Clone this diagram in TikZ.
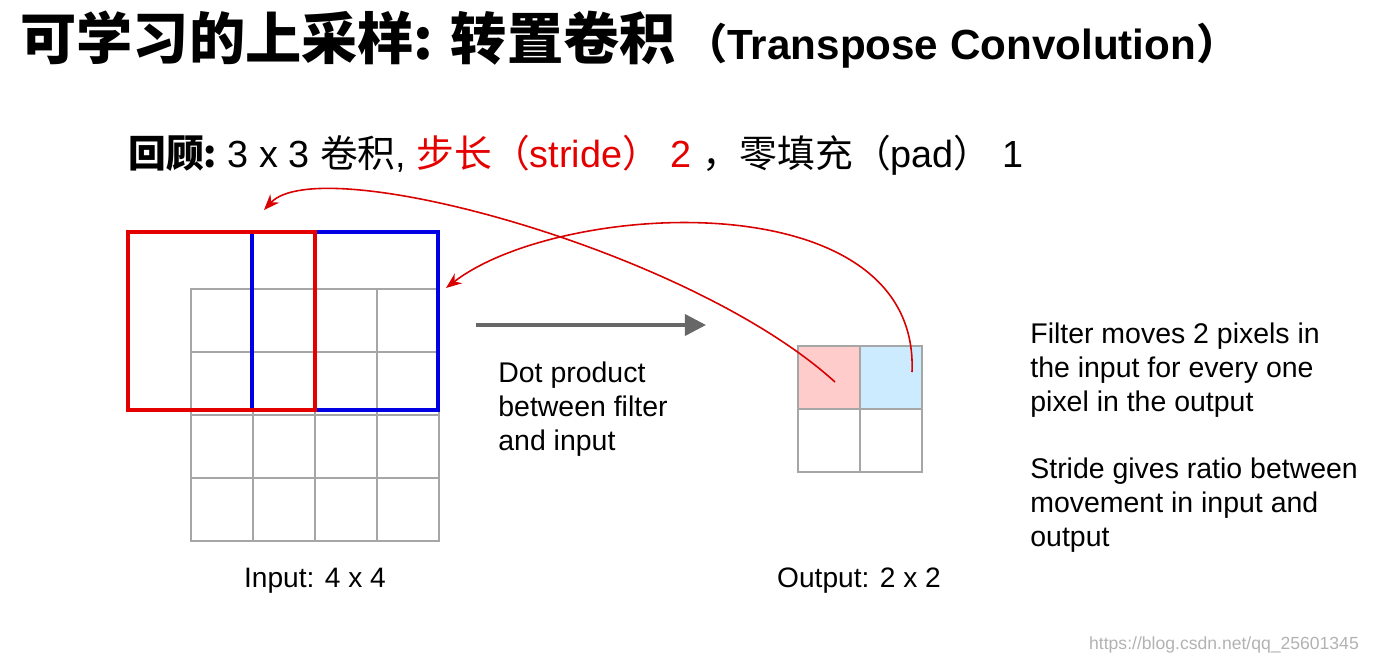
\documentclass[tikz,border=0pt]{standalone}
\usepackage{fontspec}
\setmainfont{Liberation Sans}
\newfontfamily\cjk{Noto Sans CJK SC}
\usetikzlibrary{arrows.meta,positioning,calc}

\tikzset{
  cell/.style={draw=gray!70,line width=0.6pt},
  body/.style={anchor=north west,align=left,font=\fontsize{16.2}{19.2}\selectfont,inner sep=0pt},
  curl/.style={red!85!black,line width=0.9pt,-{Stealth[length=9pt,width=7pt]}}
}

\begin{document}
\begin{tikzpicture}[x=0.02cm,y=-0.02cm]
    \useasboundingbox (0,0) rectangle (1373,664);
    % title
    \node[anchor=west,inner sep=0pt] (title) at (20,40) {\fontsize{32}{34}\selectfont\cjk\bfseries 可学习的上采样: 转置卷积\fontsize{24}{28}\selectfont\ （{\rmfamily\bfseries Transpose Convolution}）};
    \node[anchor=west,inner sep=0pt] (recap) at (128,155) {\fontsize{21.5}{24}\selectfont{\cjk\bfseries 回顾:}\ 3 x 3 {\cjk 卷积}, \textcolor{red!90!black}{{\cjk 步长（}stride{\cjk ）} 2} {\cjk ，零填充（}pad{\cjk ）} 1};

    % input 4x4
    \foreach \i in {0,...,3}
      \foreach \j in {0,...,3}
        \draw[cell] (191+62*\i,289+63*\j) rectangle ++(62,63);
    \draw[blue!90!black,line width=2.2pt] (252,232) rectangle (438,410);
    \draw[red!90!black,line width=2.2pt] (128,232) rectangle (315,410);
    \node (inlab) at (315,581) {\fontsize{16}{18}\selectfont Input: 4 x 4};

    % output 2x2
    \fill[red!20] (798,346) rectangle (860,409);
    \fill[blue!40!cyan!20] (860,346) rectangle (921,409);
    \foreach \i in {0,1}
      \foreach \j in {0,1}
        \draw[cell] (798+62*\i,346+63*\j) rectangle ++(62,63);
    \node (outlab) at (859,581) {\fontsize{16}{18}\selectfont Output: 2 x 2};

    % arrow and texts
    \coordinate (arrA) at (476,325);
    \coordinate (arrB) at (706,325);
    \draw[gray!30!black!70,line width=2pt,-{Triangle[length=12pt,width=12pt]}] (arrA) -- (arrB);
    \node[body] (dot) at (498,362) {Dot product\\between filter\\and input};
    \node[body] (moves) at (1030,323) {Filter moves 2 pixels in\\the input for every one\\pixel in the output};
    \node[body] (ratio) at (1030,458) {Stride gives ratio between\\movement in input and\\output};

    % red curls
    \coordinate (p1) at (835,382);
    \coordinate (q1) at (264,210);
    \coordinate (p2) at (912,372);
    \coordinate (q2) at (446,288);
    \draw[curl] (p1) .. controls (690,250) and (320,150) .. (q1);
    \draw[curl] (p2) .. controls (920,180) and (560,200) .. (q2);

    \node[anchor=east,text=gray!60,font=\fontsize{10}{12}\selectfont] (url) at (1365,645) {https://blog.csdn.net/qq\_25601345};
\end{tikzpicture}
\end{document}
